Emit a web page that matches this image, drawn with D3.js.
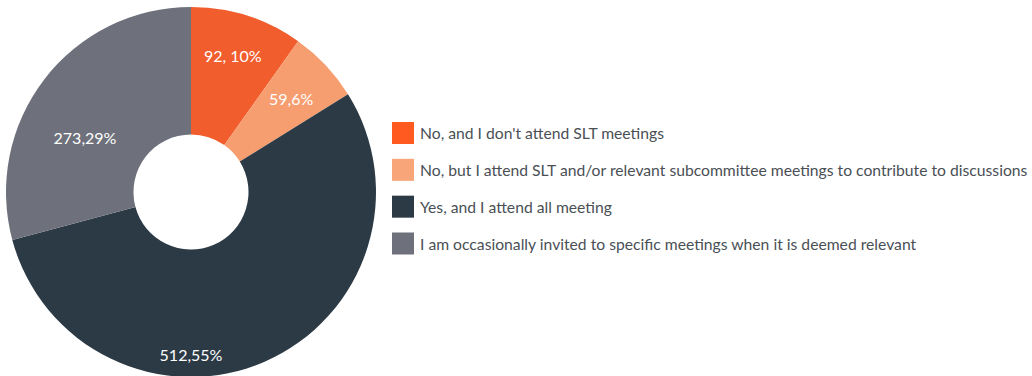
<!DOCTYPE html>
<html>
<head>
<meta charset="utf-8">
<script src="https://cdn.jsdelivr.net/npm/d3@7"></script>
<style>
  html, body { margin: 0; padding: 0; background: #fff; }
  svg { display: block; font-family: Lato, "Open Sans", sans-serif; }
</style>
</head>
<body>
<svg id="chart" width="1032" height="376"></svg>
<script>
// Survey responses: attendance at SLT meetings
const categories = [
  "No, and I don't attend SLT meetings",
  "No, but I attend SLT and/or relevant subcommittee meetings to contribute to discussions",
  "Yes, and I attend all meeting",
  "I am occasionally invited to specific meetings when it is deemed relevant"
];
const counts = [92, 59, 512, 273];
const sliceLabels = ["92, 10%", "59,6%", "512,55%", "273,29%"];

// Styling
const sliceColors = ["#f15d2d", "#f79e70", "#2c3a46", "#6e717b"];
const swatchColors = ["#ff5a1f", "#f8a679", "#2c3a46", "#6e717b"];
// Label placement: polar [angle in degrees from top, radius]
const labelPolar = [[17, 143], [47, 137], [180, 162], [297, 119]];

const svg = d3.select("#chart");
const cx = 191, cy = 192, outerR = 185, innerR = 57.5;

const data = categories.map((c, i) => ({ category: c, count: counts[i], label: sliceLabels[i], i }));

const pie = d3.pie().sort(null).value(d => d.count);
const arc = d3.arc().innerRadius(innerR).outerRadius(outerR);

const g = svg.append("g").attr("transform", `translate(${cx},${cy})`);

g.selectAll("path.slice")
  .data(pie(data))
  .join("path")
  .attr("class", "slice")
  .attr("d", arc)
  .attr("fill", d => sliceColors[d.data.i]);

g.selectAll("text.value")
  .data(pie(data))
  .join("text")
  .attr("class", "value")
  .attr("x", d => Math.sin(labelPolar[d.data.i][0] * Math.PI / 180) * labelPolar[d.data.i][1])
  .attr("y", d => -Math.cos(labelPolar[d.data.i][0] * Math.PI / 180) * labelPolar[d.data.i][1])
  .attr("text-anchor", "middle")
  .attr("dominant-baseline", "central")
  .attr("fill", "#ffffff")
  .attr("font-size", 16)
  .text(d => d.data.label);

// Legend
const legendY = d3.scalePoint().domain(d3.range(categories.length)).range([133, 243.5]);
const legend = svg.append("g").attr("class", "legend");
const rows = legend.selectAll("g.row").data(data).join("g")
  .attr("class", "row")
  .attr("transform", d => `translate(392,${legendY(d.i)})`);
rows.append("rect")
  .attr("x", 0).attr("y", -11)
  .attr("width", 22).attr("height", 22)
  .attr("fill", d => swatchColors[d.i]);
rows.append("text")
  .attr("x", 28).attr("y", 0)
  .attr("dominant-baseline", "central")
  .attr("fill", "#4a4f55")
  .attr("font-size", 15.7)
  .text(d => d.category);
</script>
</body>
</html>
